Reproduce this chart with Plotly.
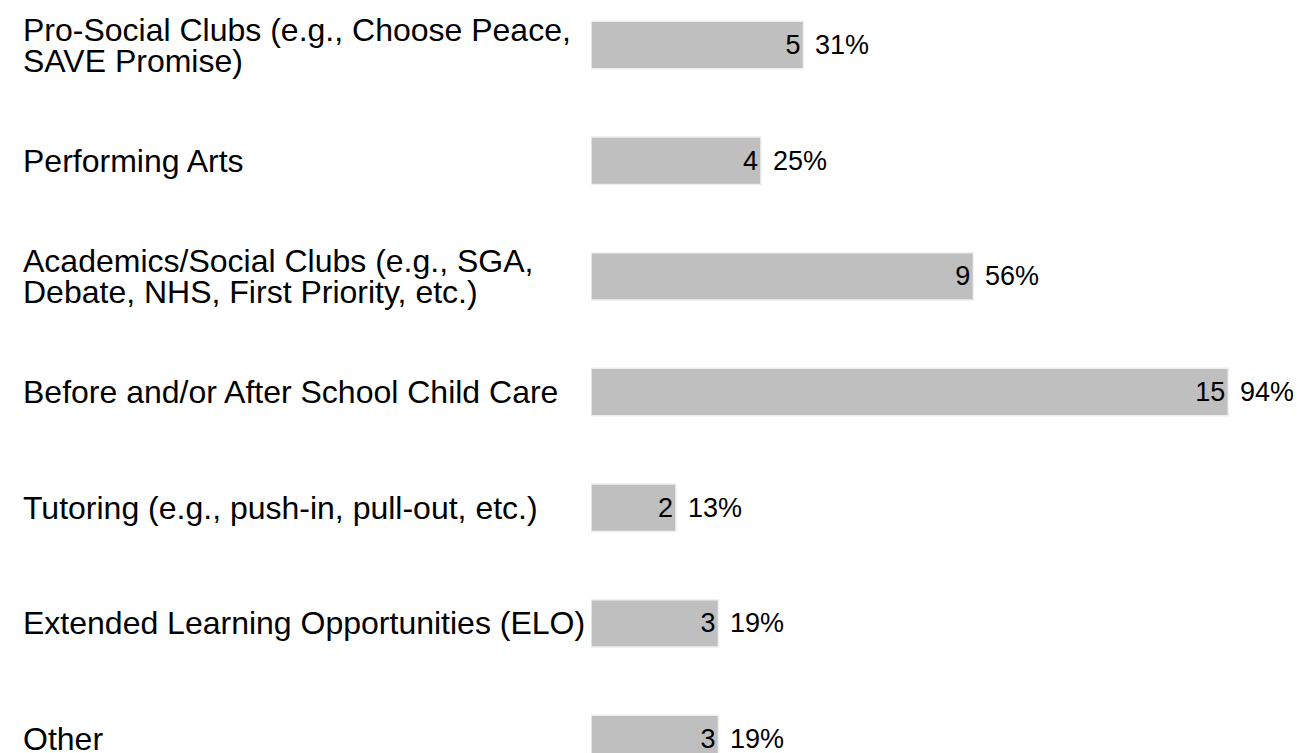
import plotly.graph_objects as go

categories = [
    "Pro-Social Clubs (e.g., Choose Peace,<br>SAVE Promise)",
    "Performing Arts",
    "Academics/Social Clubs (e.g., SGA,<br>Debate, NHS, First Priority, etc.)",
    "Before and/or After School Child Care",
    "Tutoring (e.g., push-in, pull-out, etc.)",
    "Extended Learning Opportunities (ELO)",
    "Other",
]
counts = [5, 4, 9, 15, 2, 3, 3]
percents = ["31%", "25%", "56%", "94%", "13%", "19%", "19%"]

FONT = "Liberation Sans, Arial, sans-serif"
FS_LABEL = 32
FS_NUM = 27
LINE = 31  # px between wrapped label lines

fig = go.Figure()
fig.add_trace(go.Bar(
    y=categories, x=counts, orientation="h",
    marker=dict(color="#bfbfbf", line=dict(color="#efefef", width=1.5)),
    width=0.41,
    text=[str(c) for c in counts],
    textposition="inside", insidetextanchor="end",
    textfont=dict(family=FONT, size=FS_NUM, color="black"),
    cliponaxis=False,
    hoverinfo="skip",
))

annotations = []
for cat, c, p in zip(categories, counts, percents):
    annotations.append(dict(
        x=c, y=cat, xref="x", yref="y", text=p, showarrow=False,
        xanchor="left", xshift=10, font=dict(family=FONT, size=FS_NUM, color="black"),
    ))
    lines = cat.split("<br>")
    n = len(lines)
    for i, ln in enumerate(lines):
        annotations.append(dict(
            x=0, y=cat, xref="paper", yref="y", text=ln, showarrow=False,
            xanchor="left", align="left", xshift=13,
            yshift=((n - 1) / 2 - i) * LINE,
            font=dict(family=FONT, size=FS_LABEL, color="black"),
        ))

fig.update_layout(
    width=1301, height=753,
    margin=dict(l=0, r=0, t=0, b=0),
    paper_bgcolor="white", plot_bgcolor="white",
    showlegend=False,
    xaxis=dict(domain=[583 / 1301, 1], range=[0, 16.9], visible=False),
    yaxis=dict(range=[6.19, -0.32], showticklabels=False, showgrid=False,
               zeroline=False, showline=False, ticks=""),
    annotations=annotations,
    uniformtext=dict(minsize=FS_NUM, mode="show"),
)

fig.write_html("out.html")
